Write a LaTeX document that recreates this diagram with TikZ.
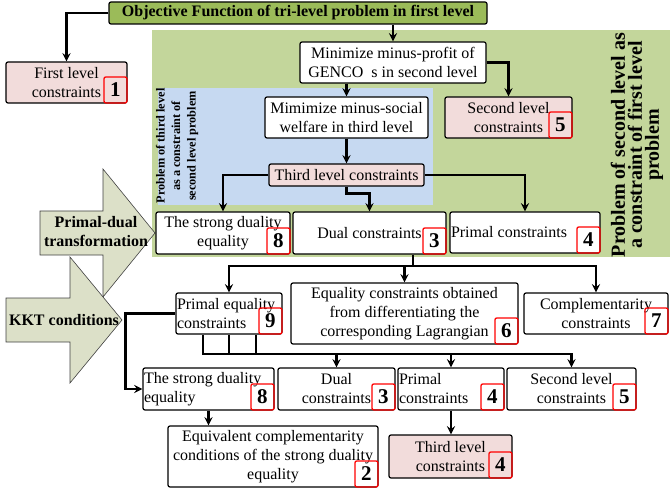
\documentclass[tikz,border=0pt]{standalone}
\usepackage{fontspec}
\setmainfont{Liberation Serif}

\definecolor{titlegreen}{HTML}{9BBB59}
\definecolor{panelgreen}{HTML}{C3D69B}
\definecolor{panelblue}{HTML}{C6D9F1}
\definecolor{pinkfill}{HTML}{F2DCDB}
\definecolor{arrowfill}{HTML}{DCE0C8}

\begin{document}
\begin{tikzpicture}[x=1pt, y=-1pt,
        box/.style={draw, rounded corners=2pt, line width=1.2pt, fill=white, align=center, inner sep=1pt, font=\fontsize{16}{19}\selectfont},
        pinkbox/.style={box, fill=pinkfill},
        badge/.style={draw=red, rounded corners=2pt, line width=1.3pt, minimum width=23pt, minimum height=26pt, inner sep=0pt, anchor=south east, font=\bfseries\fontsize{21}{21}\selectfont},
        bigarrow/.style={fill=arrowfill, draw=black!75, line width=0.6pt}]
        \useasboundingbox (0,0) rectangle (670,492);

        % panels
        \fill[panelgreen] (152,30) rectangle (670,257);
        \fill[panelblue] (158,88) rectangle (433,205);
        \node[rotate=90, align=center, font=\bfseries\fontsize{20}{17}\selectfont] (L2) at (637,145) {Problem of second level as\\a constraint of first level\\problem};
        \node[rotate=90, align=center, font=\bfseries\fontsize{12.3}{15.5}\selectfont] (L3) at (177,146) {Problem of third level\\as a constraint of\\second level problem};

        % big arrows
        \filldraw[bigarrow] (40,211) -- (103,211) -- (103,169) -- (155,233) -- (103,297) -- (103,255) -- (40,255) -- cycle;
        \node[align=center, font=\bfseries\fontsize{16}{19}\selectfont] (PD) at (96,232) {Primal-dual\\transformation};
        \filldraw[bigarrow] (6,298) -- (70,298) -- (70,257) -- (122,320) -- (70,383) -- (70,342) -- (6,342) -- cycle;
        \node[font=\bfseries\fontsize{16}{19}\selectfont] (KKT) at (64,320) {KKT conditions};

        % first and second level
        \node[box, fill=titlegreen, font=\bfseries\fontsize{16}{19}\selectfont, minimum width=378pt, minimum height=22pt] (OF) at (298,13) {Objective Function of tri-level problem in first level};
        \node[pinkbox, minimum width=121pt, minimum height=41pt] (C1) at (66.5,82.5) {First level\\constraints};
        \node[badge] (N1) at (C1.south east) {1};
        \node[box, minimum width=186pt, minimum height=41pt] (MP) at (393,62.5) {Minimize minus-profit of\\GENCO~~s in second level};
        \node[pinkbox, minimum width=127pt, minimum height=41pt] (C5) at (508.5,117.5) {Second level\\constraints};
        \node[badge] (N5) at (C5.south east) {5};
        \node[box, minimum width=163pt, minimum height=41pt] (MS) at (346.5,117.5) {Mimimize minus-social\\welfare in third level};
        \node[pinkbox, minimum width=155pt, minimum height=22pt] (TL) at (346.5,175) {Third level constraints};

        % after primal-dual transformation
        \node[box, minimum width=134pt, minimum height=42pt] (SD) at (223,233) {The strong duality\\equality};
        \node[badge] (N8) at (SD.south east) {8};
        \node[box, minimum width=153pt, minimum height=42pt] (DC) at (369.5,233) {Dual constraints};
        \node[badge] (N3) at (DC.south east) {3};
        \node[box, align=flush left, text width=148pt, minimum height=41pt] (PC) at (525,232.5) {Primal constraints};
        \node[badge] (N4) at (PC.south east) {4};

        % KKT conditions
        \node[box, align=flush left, text width=104pt, minimum height=41pt] (PE) at (229,313.5) {Primal equality\\constraints};
        \node[badge] (N9) at (PE.south east) {9};
        \node[box, minimum width=227pt, minimum height=61pt] (EQ) at (404.5,313.5) {Equality constraints obtained\\from differentiating the\\corresponding Lagrangian};
        \node[badge] (N6) at (EQ.south east) {6};
        \node[box, minimum width=144pt, minimum height=41pt] (CP) at (596,313.5) {Complementarity\\constraints};
        \node[badge] (N7) at (CP.south east) {7};

        \node[box, align=flush left, text width=129pt, minimum height=42pt] (SD2) at (208.5,389) {The strong duality\\equality};
        \node[badge] (M8) at (SD2.south east) {8};
        \node[box, minimum width=117pt, minimum height=42pt] (DC2) at (336.5,389) {Dual\\constraints};
        \node[badge] (M3) at (DC2.south east) {3};
        \node[box, align=flush left, text width=104pt, minimum height=42pt] (PR2) at (451,389) {Primal\\constraints};
        \node[badge] (M4) at (PR2.south east) {4};
        \node[box, minimum width=129pt, minimum height=42pt] (S2) at (571.5,389) {Second level\\constraints};
        \node[badge] (M5) at (S2.south east) {5};

        \node[box, minimum width=210pt, minimum height=61pt] (EV) at (273,456.5) {Equivalent complementarity\\conditions of the strong duality\\equality};
        \node[badge] (M2) at (EV.south east) {2};
        \node[pinkbox, minimum width=123pt, minimum height=43pt] (T2) at (450.5,456.5) {Third level\\constraints};
        \node[badge] (K4) at (T2.south east) {4};

        \coordinate (J1) at (413,266);
        \coordinate (J2) at (203,354);

        \begin{scope}[every path/.style={line width=2.6pt, ->, >=stealth}]
                \draw (OF.west) -| (C1.north);
                \draw (OF.south -| MP.north) -- (MP.north);
                \draw (MP.east) -| (C5.north);
                \draw (MP.south -| MS.north) -- (MS.north);
                \draw (MS.south) -- (TL.north);
                \draw (TL.west) -| (SD.north);
                \draw (TL.south) -- ++(0,7) -| (DC.north);
                \draw (TL.east) -| (PC.north);

                \draw[-] (DC.south -| J1) -- (J1);
                \draw (J1) -| (PE.north);
                \draw (J1) -| (EQ.north);
                \draw (J1) -| (CP.north);

                \draw (PE.west) -- ++(-50,0) |- (SD2.west);
                \draw (PE.south -| J2) -- (J2) -| (S2.north);
                \draw[-] (PE.south) -- (PE.south |- J2);
                \draw[-] ([xshift=27pt]PE.south) -- ([xshift=27pt]PE.south |- J2);
                \draw (DC2.north |- J2) -- (DC2.north);
                \draw (PR2.north |- J2) -- (PR2.north);

                \draw (SD2.south) -- (SD2.south |- EV.north);
                \draw (PR2.south) -- (PR2.south |- T2.north);
        \end{scope}
\end{tikzpicture}
\end{document}
